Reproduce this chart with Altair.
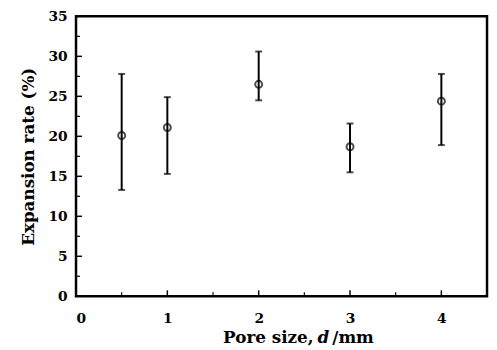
import altair as alt
import pandas as pd

pore = [0.5, 1, 2, 3, 4]
rate = [20.1, 21.1, 26.5, 18.7, 24.4]
upper = [27.8, 24.9, 30.6, 21.6, 27.8]
lower = [13.3, 15.3, 24.5, 15.5, 18.9]

y_major = [0, 5, 10, 15, 20, 25, 30, 35]
y_minor = [2.5, 7.5, 12.5, 17.5, 22.5, 27.5, 32.5]
x_major = [0, 1, 2, 3, 4]
x_minor = [0.5, 1.5, 2.5, 3.5]

df = pd.DataFrame({"d": pore, "r": rate, "hi": upper, "lo": lower})
FONT = "DejaVu Serif"
W, H = 417, 284

xs = alt.Scale(domain=[0, 4.5], nice=False, zero=False)
ys = alt.Scale(domain=[0, 35], nice=False)

X = alt.X("d:Q", scale=xs, axis=alt.Axis(values=x_major, format="d", tickSize=0, domain=False,
          grid=False, labelPadding=16, labelFont=FONT, labelFontWeight="bold", labelFontSize=14,
          labelColor="black", title=None))
Y = alt.Y("r:Q", scale=ys, axis=alt.Axis(values=y_major, tickSize=0, domain=False, grid=False,
          labelPadding=9, labelFont=FONT, labelFontWeight="bold", labelFontSize=14,
          labelColor="black", title="Expansion rate (%)", titleFont=FONT, titleFontWeight="bold",
          titleFontSize=17, titleColor="black", titlePadding=11))

base = alt.Chart(df)
bars = base.mark_rule(color="black", strokeWidth=2).encode(
    x=X, y=alt.Y("lo:Q", scale=ys), y2="hi:Q")
capsH = base.mark_tick(color="black", thickness=2, size=7, orient="horizontal").encode(
    x=alt.X("d:Q", scale=xs), y=alt.Y("hi:Q", scale=ys))
capsL = base.mark_tick(color="black", thickness=2, size=7, orient="horizontal").encode(
    x=alt.X("d:Q", scale=xs), y=alt.Y("lo:Q", scale=ys))
pts = base.mark_point(shape="circle", filled=False, color="black", size=50, strokeWidth=2).encode(
    x=alt.X("d:Q", scale=xs), y=Y)

ymaj = alt.Chart(pd.DataFrame({"v": y_major})).mark_rule(color="black", strokeWidth=1.5).encode(
    y=alt.Y("v:Q", scale=ys), x=alt.value(0), x2=alt.value(6))
ymin = alt.Chart(pd.DataFrame({"v": y_minor})).mark_rule(color="black", strokeWidth=1.2).encode(
    y=alt.Y("v:Q", scale=ys), x=alt.value(0), x2=alt.value(4))
xmaj = alt.Chart(pd.DataFrame({"v": x_major})).mark_rule(color="black", strokeWidth=1.5).encode(
    x=alt.X("v:Q", scale=xs), y=alt.value(H), y2=alt.value(H - 6))
xmin = alt.Chart(pd.DataFrame({"v": x_minor})).mark_rule(color="black", strokeWidth=1.2).encode(
    x=alt.X("v:Q", scale=xs), y=alt.value(H), y2=alt.value(H - 4))

TY = 326
t1 = alt.Chart(pd.DataFrame({"t": ["Pore size,"]})).mark_text(
    font=FONT, fontWeight="bold", fontSize=17, align="right", baseline="middle", color="black"
).encode(text="t:N", x=alt.value(241), y=alt.value(TY))
t2 = alt.Chart(pd.DataFrame({"t": ["d"]})).mark_text(
    font=FONT, fontWeight="bold", fontStyle="italic", fontSize=17, align="center",
    baseline="middle", color="black"
).encode(text="t:N", x=alt.value(251), y=alt.value(TY))
t3 = alt.Chart(pd.DataFrame({"t": ["/mm"]})).mark_text(
    font=FONT, fontWeight="bold", fontSize=17, align="left", baseline="middle", color="black"
).encode(text="t:N", x=alt.value(260), y=alt.value(TY))

chart = alt.layer(ymaj, ymin, xmaj, xmin, bars, capsH, capsL, pts, t1, t2, t3).properties(
    width=W, height=H,
    autosize=alt.AutoSizeParams(type="none"),
    padding={"left": 69, "top": 6, "right": 2, "bottom": 50},
    background="white",
).configure_view(stroke="black", strokeWidth=2.5)

chart.save("out.html", embed_options={"renderer": "svg", "actions": False})
